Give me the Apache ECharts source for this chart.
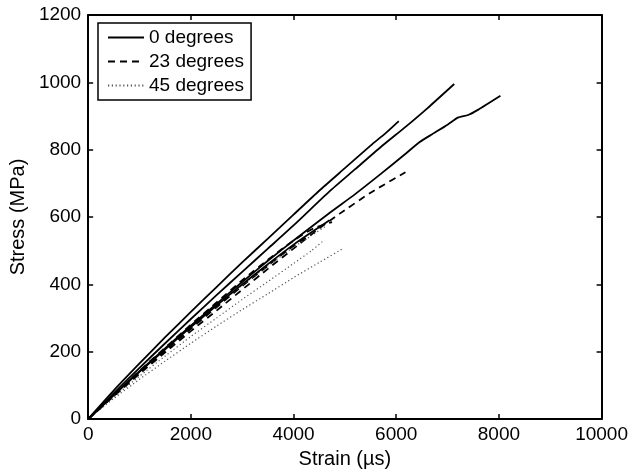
<!DOCTYPE html>
<html>
<head>
<meta charset="utf-8">
<script src="https://cdn.jsdelivr.net/npm/echarts@6/dist/echarts.min.js"></script>
<style>
  html, body { margin: 0; padding: 0; background: #fff; }
  #chart { width: 631px; height: 474px; }
</style>
</head>
<body>
<div id="chart"></div>
<script>
// 刻度
const xTicks = [0, 2000, 4000, 6000, 8000, 10000]
const yTicks = [0, 200, 400, 600, 800, 1000, 1200]
const legendNames = ['0 degrees', '23 degrees', '45 degrees']

// 0 degrees (实线)
const solidA = [[0, 0], [500, 85], [1000, 165], [1500, 243], [2000, 318], [2500, 392], [3000, 465], [3500, 536], [4000, 607], [4500, 678], [5000, 745], [5500, 812], [5800, 850], [6050, 885]]
const solidB = [[0, 0], [500, 77], [1000, 152], [1500, 225], [2000, 297], [2500, 368], [3000, 437], [3500, 506], [4000, 575], [4700, 676], [5200, 742], [5700, 808], [6200, 870], [6600, 922], [7130, 995]]
const solidC = [[0, 0], [500, 72], [1000, 142], [1500, 210], [2000, 277], [2500, 342], [3000, 407], [3500, 470], [4000, 530], [4700, 612], [5200, 668], [5700, 728], [6200, 790], [6450, 822], [6700, 846], [7000, 874], [7200, 895], [7400, 903], [7600, 919], [8030, 960]]
const solidD = [[0, 0], [500, 71], [1000, 140], [1500, 207], [2000, 273], [2500, 337], [3000, 400], [3500, 460], [4000, 518], [4400, 560], [4700, 590]]

// 23 degrees (虚线)
const dashE = [[0, 0], [500, 68], [1000, 134], [1500, 198], [2000, 261], [2500, 322], [3000, 384], [3500, 446], [4000, 506], [4500, 566], [4900, 610], [5500, 672], [6180, 733]]
const dashF = [[0, 0], [500, 72], [1000, 143], [1500, 212], [2000, 280], [2500, 346], [3000, 412], [3500, 473], [4000, 530], [4400, 567], [4750, 585]]
const dashG = [[0, 0], [500, 69], [1000, 137], [1500, 203], [2000, 268], [2500, 332], [3000, 395], [3500, 455], [3900, 503], [4300, 545]]

// 45 degrees (点线)
const dotH = [[0, 0], [500, 61], [1000, 118], [1500, 172], [2000, 225], [2500, 276], [3000, 325], [3500, 372], [4000, 420], [4500, 465], [4960, 506]]
const dotI = [[0, 0], [500, 72], [1000, 141], [1500, 208], [2000, 273], [2500, 336], [3000, 397], [3500, 455], [4000, 510], [4350, 545], [4650, 575]]
const dotJ = [[0, 0], [500, 65], [1000, 127], [1500, 187], [2000, 245], [2500, 300], [3000, 355], [3500, 408], [4000, 462], [4350, 500], [4600, 532]]

const font = 'Liberation Sans, Arial, Helvetica, sans-serif'

let myChart = echarts.init(document.getElementById('chart'), null, { renderer: 'canvas' })

function makeLine(name, data, type) {
  let lineStyle = { color: '#000', width: 1.8, type: 'solid' }
  if (type === 'dashed') {
    lineStyle = { color: '#000', width: 1.8, type: [7, 5] }
  } else if (type === 'dotted') {
    lineStyle = { color: '#555', width: 1.2, type: [1.2, 2.6] }
  }
  return {
    name: name,
    type: 'line',
    data: data,
    showSymbol: false,
    symbol: 'none',
    smooth: 0.2,
    color: '#000',
    lineStyle: lineStyle,
    animation: false,
    z: type === 'solid' ? 3 : 2
  }
}

// 坐标轴公共样式
const axisLine = { show: true, onZero: false, lineStyle: { color: '#000', width: 2 } }
const axisTick = { show: true, inside: true, length: 5, lineStyle: { color: '#000', width: 1.5 } }

let option = {
  backgroundColor: '#fff',
  animation: false,
  grid: {
    left: 88,
    right: 28,
    top: 15,
    bottom: 54
  },
  legend: {
    orient: 'vertical',
    left: 98,
    top: 23,
    data: legendNames,
    backgroundColor: '#fff',
    borderColor: '#000',
    borderWidth: 1.5,
    padding: [5, 7, 5, 9],
    itemGap: 5,
    itemWidth: 36,
    itemHeight: 14,
    itemStyle: { opacity: 0 },
    textStyle: {
      fontFamily: font,
      fontSize: 19,
      color: '#000'
    }
  },
  xAxis: [
    {
      type: 'value',
      min: 0,
      max: 10000,
      interval: 2000,
      name: 'Strain (µs)',
      nameLocation: 'middle',
      nameGap: 30,
      nameTextStyle: { fontFamily: font, fontSize: 20, color: '#000' },
      axisLine: axisLine,
      axisTick: axisTick,
      splitLine: { show: false },
      axisLabel: {
        fontFamily: font,
        fontSize: 19,
        color: '#000',
        margin: 6,
        formatter: v => (xTicks.indexOf(v) >= 0 ? String(v) : '')
      }
    },
    {
      type: 'value',
      position: 'top',
      min: 0,
      max: 10000,
      interval: 2000,
      axisLine: axisLine,
      axisTick: axisTick,
      splitLine: { show: false },
      axisLabel: { show: false }
    }
  ],
  yAxis: [
    {
      type: 'value',
      min: 0,
      max: 1200,
      interval: 200,
      name: 'Stress (MPa)',
      nameLocation: 'middle',
      nameGap: 56,
      nameTextStyle: { fontFamily: font, fontSize: 20, color: '#000' },
      axisLine: axisLine,
      axisTick: axisTick,
      splitLine: { show: false },
      axisLabel: {
        fontFamily: font,
        fontSize: 19,
        color: '#000',
        margin: 7,
        formatter: v => (yTicks.indexOf(v) >= 0 ? String(v) : '')
      }
    },
    {
      type: 'value',
      position: 'right',
      min: 0,
      max: 1200,
      interval: 200,
      axisLine: axisLine,
      axisTick: axisTick,
      splitLine: { show: false },
      axisLabel: { show: false }
    }
  ],
  series: [
    makeLine(legendNames[0], solidA, 'solid'),
    makeLine(legendNames[1], dashE, 'dashed'),
    makeLine(legendNames[2], dotH, 'dotted'),
    makeLine(legendNames[0], solidB, 'solid'),
    makeLine(legendNames[0], solidC, 'solid'),
    makeLine(legendNames[0], solidD, 'solid'),
    makeLine(legendNames[1], dashF, 'dashed'),
    makeLine(legendNames[1], dashG, 'dashed'),
    makeLine(legendNames[2], dotI, 'dotted'),
    makeLine(legendNames[2], dotJ, 'dotted')
  ]
}

myChart.setOption(option)
</script>
</body>
</html>
